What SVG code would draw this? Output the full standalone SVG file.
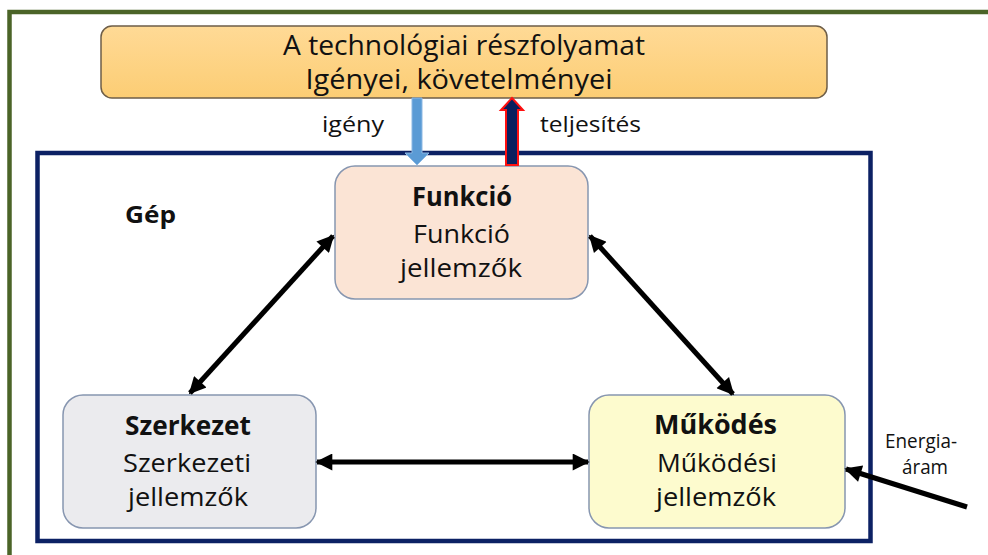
<svg xmlns="http://www.w3.org/2000/svg" width="988" height="555" viewBox="0 0 988 555">
<defs>
<style>
.t{font-family:"Open Sans","Noto Sans","Liberation Sans",sans-serif;fill:#111;text-anchor:middle}
.b{font-weight:bold}
.node{stroke:#8796B0;stroke-width:1.5}
.conn{stroke:#000;stroke-width:5;fill:none}
</style>
<marker id="ah" viewBox="0 0 10 10" refX="9" refY="5" markerWidth="19" markerHeight="17" markerUnits="userSpaceOnUse" orient="auto-start-reverse">
<path d="M0,0 L10,5 L0,10 Z" fill="#000"/>
</marker>
<linearGradient id="og" x1="0" y1="0" x2="0" y2="1">
<stop offset="0" stop-color="#FFDA96"/>
<stop offset="1" stop-color="#FCCD74"/>
</linearGradient>
</defs>
<rect width="988" height="555" fill="#fff"/>
<rect x="9.5" y="12" width="1000" height="560" fill="none" stroke="#4B6428" stroke-width="4.5"/>
<rect x="37.5" y="153" width="833" height="388" fill="none" stroke="#0C2164" stroke-width="4.5"/>

<g id="top">
<rect x="101" y="26" width="726" height="72" rx="11" fill="url(#og)" stroke="#6E5E48" stroke-width="1.5"/>
<text class="t" x="464" y="55" font-size="27" textLength="362" lengthAdjust="spacingAndGlyphs">A technológiai részfolyamat</text>
<text class="t" x="459" y="89" font-size="27" textLength="307" lengthAdjust="spacingAndGlyphs">Igényei, követelményei</text>
</g>

<g id="funkcio">
<rect class="node" x="335" y="166" width="253" height="133" rx="20" fill="#FBE4D5"/>
<text class="t b" x="462" y="206" font-size="26" textLength="100" lengthAdjust="spacingAndGlyphs">Funkció</text>
<text class="t" x="461.5" y="243" font-size="26" textLength="97" lengthAdjust="spacingAndGlyphs">Funkció</text>
<text class="t" x="461" y="277" font-size="26" textLength="122" lengthAdjust="spacingAndGlyphs">jellemzők</text>
</g>

<g id="szerkezet">
<rect class="node" x="63" y="395" width="253" height="133" rx="20" fill="#EBEBEE"/>
<text class="t b" x="188" y="435" font-size="26" textLength="126" lengthAdjust="spacingAndGlyphs">Szerkezet</text>
<text class="t" x="187" y="472" font-size="26" textLength="128" lengthAdjust="spacingAndGlyphs">Szerkezeti</text>
<text class="t" x="188" y="506" font-size="26" textLength="120" lengthAdjust="spacingAndGlyphs">jellemzők</text>
</g>

<g id="mukodes">
<rect class="node" x="589" y="395" width="256" height="133" rx="20" fill="#FDFBCE"/>
<text class="t b" x="715.5" y="434" font-size="26" textLength="123" lengthAdjust="spacingAndGlyphs">Működés</text>
<text class="t" x="717" y="472" font-size="26" textLength="120" lengthAdjust="spacingAndGlyphs">Működési</text>
<text class="t" x="716" y="506" font-size="26" textLength="120" lengthAdjust="spacingAndGlyphs">jellemzők</text>
</g>

<g id="gep">
<text class="t b" x="150.5" y="223" font-size="23" textLength="51" lengthAdjust="spacingAndGlyphs">Gép</text>
</g>

<g id="connectors">
<path d="M412,98 L412,153 L405,153 L417,165 L429,153 L422,153 L422,98 Z" fill="#5B9BD5" stroke="#8DB8E3" stroke-width="1"/>
<path d="M506,165 L506,110 L501,110 L512,98 L523,110 L518,110 L518,165 Z" fill="#0A1F5E" stroke="#FF1010" stroke-width="2"/>
<line class="conn" x1="190" y1="393" x2="333" y2="236" marker-start="url(#ah)" marker-end="url(#ah)"/>
<line class="conn" x1="590" y1="236" x2="733" y2="394" marker-start="url(#ah)" marker-end="url(#ah)"/>
<line class="conn" x1="317" y1="462" x2="588" y2="462" marker-start="url(#ah)" marker-end="url(#ah)"/>
<line class="conn" x1="967" y1="507" x2="846" y2="469" marker-end="url(#ah)"/>
</g>

<g id="labels">
<text class="t" x="353" y="132" font-size="21" textLength="62" lengthAdjust="spacingAndGlyphs">igény</text>
<text class="t" x="590.5" y="132" font-size="21" textLength="101" lengthAdjust="spacingAndGlyphs">teljesítés</text>
<text class="t" x="921" y="448" font-size="20" textLength="72" lengthAdjust="spacingAndGlyphs">Energia-</text>
<text class="t" x="925" y="474" font-size="20" textLength="46" lengthAdjust="spacingAndGlyphs">áram</text>
</g>
</svg>
